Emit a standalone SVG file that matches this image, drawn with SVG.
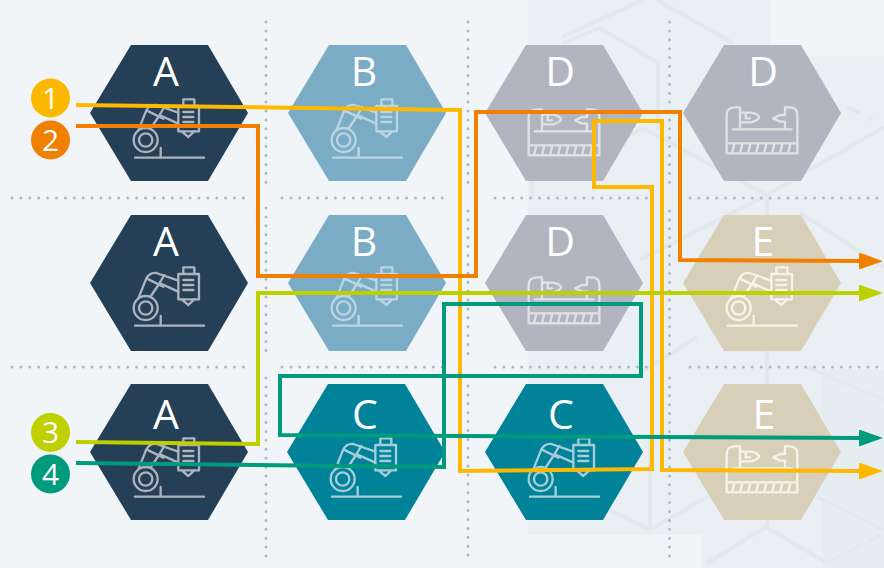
<svg xmlns="http://www.w3.org/2000/svg" width="884" height="568" viewBox="0 0 884 568">
<style>
.lbl{font-family:"Open Sans","Liberation Sans",sans-serif;font-size:41px;fill:#fff;text-anchor:middle}
.num{font-family:"Open Sans","Liberation Sans",sans-serif;font-size:30px;fill:#fff;text-anchor:middle}
.ico{fill:none;stroke-width:7;stroke-linecap:round;stroke-linejoin:round}
.a{fill:#243f56}.a .ico{stroke:#aeb3bf}
.b{fill:#7aacc6}.b .ico{stroke:#bcd5e2}
.c{fill:#008299}.c .ico{stroke:#a5cdd7}
.d{fill:#b2b5bf}.d .ico{stroke:#e0e2e6}
.e{fill:#d8cfb9}.e .ico{stroke:#f6f3ea}
.conn{fill:none;stroke-width:4;stroke-linejoin:miter}
.dots{fill:none;stroke:#a3bccb;stroke-width:3;stroke-linecap:round;stroke-dasharray:0 8.9}
.bgl{fill:none;stroke:#e2e9ed;stroke-width:4}
</style>
<defs>
<path id="h" d="M-38-68H39L79 0L39 68H-38L-79 0Z"/>
<g id="robot">
<path d="M-102 134H105M-25 105V134M-92 52L-68-8Q-58-26-38-24L28-1M-54 45L-32 12Q-30 8-27 7L28 32M-62-5L-17 17M-32 12L-14-18"/>
<circle cx="-70" cy="81" r="36"/><circle cx="-70" cy="81" r="20"/>
<path d="M28-21H90V55H28ZM43-21V-41H76V-21M38 55L58 72L76 55M43-3H73M43 12H73M43 27H73"/>
</g>
<g id="machine">
<path d="M-106 91V6Q-106-17-81-17H-66V49M-66-1H-31L-24 1Q-9 6-9 13Q-9 20-24 25L-31 28H-66M-49 1V16H-36M106 91V6Q106-17 84-17H69V6H54L34 16L54 26H69V49M-88 49H89M-106 91H106V121H-106ZM-90 121L-84 96M-66 121L-60 96M-42 121L-36 96M-18 121L-12 96M6 121L12 96M30 121L36 96M54 121L60 96M78 121L84 96"/>
</g>
<marker id="mY" markerUnits="userSpaceOnUse" markerWidth="24" markerHeight="17" refX="0" refY="8.5" orient="auto"><path d="M0 0L24 8.5L0 17Z" fill="#fdb900"/></marker>
<marker id="mO" markerUnits="userSpaceOnUse" markerWidth="24" markerHeight="17" refX="0" refY="8.5" orient="auto"><path d="M0 0L24 8.5L0 17Z" fill="#f28000"/></marker>
<marker id="mL" markerUnits="userSpaceOnUse" markerWidth="24" markerHeight="17" refX="0" refY="8.5" orient="auto"><path d="M0 0L24 8.5L0 17Z" fill="#bdd000"/></marker>
<marker id="mG" markerUnits="userSpaceOnUse" markerWidth="24" markerHeight="17" refX="0" refY="8.5" orient="auto"><path d="M0 0L24 8.5L0 17Z" fill="#009a7d"/></marker>
</defs>
<g id="background">
<rect width="884" height="568" fill="#f1f5f8"/>
<path d="M528 0H770V56H884V568H702V535H528Z" fill="#e9eff3"/>
<path d="M822 370H884V568H822Z" fill="#e6edf1"/>
<path class="bgl" d="M563 43L600 28L658 63V130M562 37L643 0M657 0L733 43M643 128L767 195L884 127M643 128L600 153M532 197V60M767 195V527M767 195L640 260M800 213L884 267M807 367L884 400M697 337L640 373M650 530V440M610 510L650 530L707 497M707 563L766 527L827 563M817 497L884 530"/>
<path class="bgl" stroke-dasharray="14 10" d="M827 563L884 533M847 107L873 120"/>
</g>
<g id="grid">
<path class="dots" d="M266 22V186M266 208V355M266 378V560M468 22V186M468 211V355M468 386V560M669.500 22V186M669.500 211V355M669.500 378V562"/>
<path class="dots" d="M12 198H250M282 198H450M495 198H650M690 198H880M12 367H250M282 367H450M495 367H650M690 367H880"/>
</g>
<g id="node-a1" class="a"><use href="#h" x="169" y="113"/><text class="lbl" x="166" y="86">A</text><use class="ico" href="#robot" transform="translate(169 113) scale(.3333)"/></g>
<g id="node-b1" class="b"><use href="#h" x="367" y="113"/><text class="lbl" x="364" y="86">B</text><use class="ico" href="#robot" transform="translate(367 113) scale(.3333)"/></g>
<g id="node-d1" class="d"><use href="#h" x="564" y="113"/><text class="lbl" x="560" y="86">D</text><use class="ico" href="#machine" transform="translate(564 115) scale(.3333)"/></g>
<g id="node-d2" class="d"><use href="#h" x="762" y="113"/><text class="lbl" x="763" y="86">D</text><use class="ico" href="#machine" transform="translate(762 113) scale(.3333)"/></g>
<g id="node-a2" class="a"><use href="#h" x="169" y="283"/><text class="lbl" x="166" y="256">A</text><use class="ico" href="#robot" transform="translate(169 281) scale(.3333)"/></g>
<g id="node-b2" class="b"><use href="#h" x="367" y="283"/><text class="lbl" x="364" y="256">B</text><use class="ico" href="#robot" transform="translate(367 281) scale(.3333)"/></g>
<g id="node-d3" class="d"><use href="#h" x="564" y="283"/><text class="lbl" x="560" y="256">D</text><use class="ico" href="#machine" transform="translate(564 283) scale(.3333)"/></g>
<g id="node-e1" class="e"><use href="#h" x="762" y="283"/><text class="lbl" x="763" y="256">E</text><use class="ico" href="#robot" transform="translate(762 281) scale(.3333)"/></g>
<g id="node-a3" class="a"><use href="#h" x="169" y="452"/><text class="lbl" x="166" y="429">A</text><use class="ico" href="#robot" transform="translate(169 452) scale(.3333)"/></g>
<g id="node-c1" class="c"><use href="#h" x="366" y="452"/><text class="lbl" x="365" y="429">C</text><use class="ico" href="#robot" transform="translate(366 452) scale(.3333)"/></g>
<g id="node-c2" class="c"><use href="#h" x="564" y="452"/><text class="lbl" x="561" y="429">C</text><use class="ico" href="#robot" transform="translate(564 452) scale(.3333)"/></g>
<g id="node-e2" class="e"><use href="#h" x="762" y="452"/><text class="lbl" x="764" y="429">E</text><use class="ico" href="#machine" transform="translate(762 452) scale(.3333)"/></g>
<g id="connectors">
<path class="conn" stroke="#fdb900" marker-end="url(#mY)" d="M76 105L460 110V471L652 469V187H594V121H662V470L859 471"/>
<path class="conn" stroke="#f28000" marker-end="url(#mO)" d="M76 126H258V276H476V112H680V260L859 261"/>
<path class="conn" stroke="#bdd000" marker-end="url(#mL)" d="M76 442L258 444V293H859"/>
<path class="conn" stroke="#009a7d" marker-end="url(#mG)" d="M76 463L444 467V304H641V376H280V435L859 438"/>
</g>
<g id="badge-1"><circle cx="50.500" cy="98" r="19.500" fill="#fdb900"/><text class="num" x="50.500" y="108.500">1</text></g>
<g id="badge-2"><circle cx="50.500" cy="140" r="19.500" fill="#f08000"/><text class="num" x="50.500" y="150.500">2</text></g>
<g id="badge-3"><circle cx="50.500" cy="432.500" r="19.500" fill="#bfd000"/><text class="num" x="50.500" y="443">3</text></g>
<g id="badge-4"><circle cx="50.500" cy="474" r="19.500" fill="#009a7d"/><text class="num" x="50.500" y="484.500">4</text></g>
</svg>
